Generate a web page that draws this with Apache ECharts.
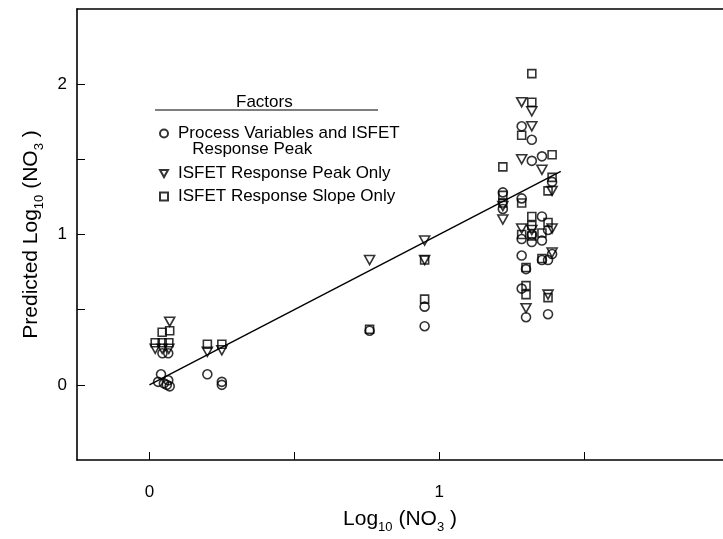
<!DOCTYPE html>
<html>
<head>
<meta charset="utf-8">
<script src="https://cdn.jsdelivr.net/npm/echarts@6/dist/echarts.min.js"></script>
<style>
  html, body { margin: 0; padding: 0; background: #fff; }
  #chart { width: 723px; height: 539px; }
</style>
</head>
<body>
<div id="chart"></div>
<script>
// series names (legend)
const seriesNames = [
    'Process Variables and ISFET Response Peak',
    'ISFET Response Peak Only',
    'ISFET Response Slope Only'
];

// [log10(NO3), predicted log10(NO3)]
const processVarsPeak = [
    [0.03, 0.02], [0.04, 0.07], [0.05, 0.01], [0.06, 0.0], [0.07, -0.01], [0.065, 0.03],
    [0.045, 0.21], [0.065, 0.21],
    [0.2, 0.07], [0.25, 0.02], [0.25, 0.0],
    [0.76, 0.36], [0.95, 0.52], [0.95, 0.39],
    [1.22, 1.28], [1.22, 1.17],
    [1.285, 1.72], [1.285, 1.24], [1.285, 0.97], [1.285, 0.86], [1.285, 0.64],
    [1.32, 1.63], [1.32, 1.49], [1.32, 1.00], [1.32, 0.95], [1.30, 0.77], [1.30, 0.45],
    [1.355, 1.52], [1.355, 1.12], [1.355, 0.96], [1.355, 0.83],
    [1.376, 1.03], [1.376, 0.83], [1.39, 0.87], [1.39, 1.35], [1.376, 0.47]
];
const peakOnly = [
    [0.02, 0.24], [0.044, 0.24], [0.067, 0.24], [0.07, 0.42],
    [0.2, 0.22], [0.25, 0.23],
    [0.76, 0.83], [0.95, 0.96], [0.95, 0.83],
    [1.22, 1.19], [1.22, 1.10],
    [1.285, 1.88], [1.285, 1.50], [1.285, 1.04],
    [1.32, 1.82], [1.32, 1.72], [1.32, 1.03], [1.30, 0.51],
    [1.355, 1.43],
    [1.39, 1.29], [1.39, 0.88], [1.376, 0.60], [1.39, 1.04]
];
const slopeOnly = [
    [0.02, 0.28], [0.044, 0.28], [0.067, 0.28], [0.044, 0.35], [0.07, 0.36],
    [0.2, 0.27], [0.25, 0.27],
    [0.76, 0.37], [0.95, 0.83], [0.95, 0.57],
    [1.22, 1.45], [1.22, 1.26], [1.22, 1.21],
    [1.285, 1.66], [1.285, 1.21], [1.285, 1.00], [1.30, 0.66], [1.30, 0.60], [1.30, 0.78],
    [1.32, 2.07], [1.32, 1.88], [1.32, 1.12], [1.32, 1.06], [1.32, 0.99],
    [1.355, 1.01], [1.355, 0.84],
    [1.39, 1.53], [1.39, 1.38], [1.376, 1.29], [1.376, 1.08], [1.376, 0.58]
];
// 1:1 line
const fitLine = [[0, 0], [1.42, 1.42]];

const xTicks = [0, 0.5, 1, 1.5];
const xLabels = [0, 1];
const yTicks = [0, 0.5, 1, 1.5, 2];
const yLabels = [0, 1, 2];

const font = 'Liberation Sans, Arial, sans-serif';
const triDown = 'path://M0,0L10,0L5,9Z';

let chart = echarts.init(document.getElementById('chart'));

function scatter(name, data, symbol, size) {
    return {
        name: name,
        type: 'scatter',
        data: data,
        symbol: symbol,
        symbolSize: size,
        itemStyle: { color: 'rgba(0,0,0,0)', borderColor: '#000', borderWidth: 1.6 },
        emphasis: { disabled: true },
        z: 3
    };
}

function legendAt(name, top, label) {
    return {
        data: [name],
        left: 159, top: top, padding: 0,
        itemWidth: 8, itemHeight: 8,
        selectedMode: false,
        formatter: function () { return label; },
        textStyle: { fontFamily: font, fontSize: 17, lineHeight: 16, color: '#000', padding: [0, 0, 0, 5] }
    };
}

const nameRich = {
    a: { fontFamily: font, fontSize: 21, color: '#000', lineHeight: 25, verticalAlign: 'top' },
    s: { fontFamily: font, fontSize: 13, color: '#000', lineHeight: 25, verticalAlign: 'bottom' }
};

let option = {
    backgroundColor: '#fff',
    animation: false,
    grid: { left: 77, top: 9, right: 0, bottom: 72 },
    legend: [
        legendAt(seriesNames[0], 109, '\nProcess Variables and ISFET\n   Response Peak'),
        legendAt(seriesNames[1], 165, 'ISFET Response Peak Only'),
        legendAt(seriesNames[2], 188, 'ISFET Response Slope Only')
    ],
    xAxis: [{
        type: 'value',
        min: -0.25, max: 1.98,
        name: '{a|Log}{s|10}{a| (NO}{s|3}{a| )}',
        nameLocation: 'middle',
        nameGap: 49,
        nameTextStyle: { rich: nameRich },
        axisLine: { onZero: false, lineStyle: { color: '#000', width: 1.6 } },
        axisTick: { inside: true, length: 8, customValues: xTicks, lineStyle: { color: '#000', width: 1 } },
        axisLabel: { customValues: xLabels, margin: 24, fontFamily: font, fontSize: 17, color: '#000' },
        splitLine: { show: false }
    }, {
        type: 'value',
        position: 'top',
        min: -0.25, max: 1.98,
        axisLine: { onZero: false, lineStyle: { color: '#000', width: 1.6 } },
        axisTick: { show: false },
        axisLabel: { show: false },
        splitLine: { show: false }
    }],
    yAxis: {
        type: 'value',
        min: -0.5, max: 2.5,
        name: '{a|Predicted Log}{s|10}{a| (NO}{s|3}{a| )}',
        nameLocation: 'middle',
        nameRotate: 90,
        nameGap: 31,
        nameTextStyle: { rich: nameRich },
        axisLine: { onZero: false, lineStyle: { color: '#000', width: 1.6 } },
        axisTick: { inside: true, length: 8, customValues: yTicks, lineStyle: { color: '#000', width: 1 } },
        axisLabel: { customValues: yLabels, margin: 10, fontFamily: font, fontSize: 17, color: '#000' },
        splitLine: { show: false }
    },
    graphic: [
        {
            type: 'text', left: 236, top: 94,
            style: { text: 'Factors', fontFamily: font, fontSize: 17, fill: '#000' }
        },
        {
            type: 'line',
            shape: { x1: 155, y1: 110, x2: 378, y2: 110 },
            style: { stroke: '#000', lineWidth: 1.2 }
        }
    ],
    series: [
        scatter(seriesNames[0], processVarsPeak, 'circle', 9),
        scatter(seriesNames[1], peakOnly, triDown, [10, 9]),
        scatter(seriesNames[2], slopeOnly, 'rect', 8),
        {
            type: 'line',
            data: fitLine,
            symbol: 'none',
            lineStyle: { color: '#000', width: 1.4 },
            z: 2
        }
    ]
};
chart.setOption(option);
</script>
</body>
</html>
